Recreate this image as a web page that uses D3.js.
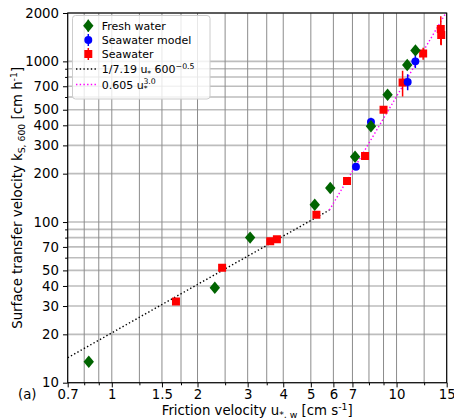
<!DOCTYPE html>
<html>
<head>
<meta charset="utf-8">
<script src="https://cdn.jsdelivr.net/npm/d3@7"></script>
<style>
body{margin:0;background:#fff;}
svg{display:block;font-family:"DejaVu Sans",sans-serif;}
</style>
</head>
<body>
<div id="chart"></div>
<script>
// values
var freshU = [0.83, 2.3, 3.06, 5.16, 5.85, 7.15, 8.13, 9.3, 10.9, 11.65];
var freshK = [13.5, 39, 80, 128, 163, 255, 395, 620, 950, 1170];
var freshErr = [0, 0, 0, 0, 0, 0, 0, 0, 0, 0];

var modelU = [7.2, 8.13, 10.94, 11.64];
var modelK = [221, 420, 745, 1000];
var modelErr = [10, 25, 85, 90];

var seaU = [1.68, 2.44, 3.6, 3.8, 5.23, 6.7, 7.75, 9.0, 10.5, 12.4, 14.3, 14.35];
var seaK = [32, 52, 76, 78, 111, 180, 258, 500, 740, 1120, 1590, 1460];
var seaErr = [0, 0, 0, 0, 0, 0, 15, 0, 135, 95, 320, 200];

// fit lines (straight in log-log, end points)
var fitLinU = [0.7, 5.81];
var fitLinK = [14.3, 118.8];
var fitCubU = [5.81, 15];
var fitCubK = [118.7, 2042];

var xGrid = [0.7, 0.8, 0.9, 1, 1.25, 1.5, 1.75, 2, 2.5, 3, 3.5, 4, 5, 6, 7, 8, 9, 10, 12.5, 15];
var xLabels = [0.7, 1, 1.5, 2, 3, 4, 5, 6, 7, 10, 15];
var yGrid = [10, 20, 30, 40, 50, 60, 70, 80, 90, 100, 200, 300, 400, 500, 600, 700, 800, 900, 1000, 2000];
var yLabels = [10, 20, 30, 40, 50, 70, 100, 200, 300, 400, 500, 700, 1000, 2000];

var width = 454, height = 418;
var pl = 67.7, pr = 446.7, pt = 13, pb = 382.7;

var svg = d3.select("#chart").append("svg")
  .attr("width", width).attr("height", height);

var x = d3.scaleLog().domain([0.7, 15]).range([pl, pr]);
var y = d3.scaleLog().domain([10, 2000]).range([pb, pt]);

svg.append("clipPath").attr("id", "clip")
  .append("rect").attr("x", pl).attr("y", pt)
  .attr("width", pr - pl).attr("height", pb - pt);

// grid
svg.append("g").selectAll("line").data(yGrid).enter().append("line")
  .attr("x1", pl).attr("x2", pr)
  .attr("y1", d => y(d)).attr("y2", d => y(d))
  .style("stroke", "#bdbdbd").style("stroke-width", 1.6);
svg.append("g").selectAll("line").data(xGrid).enter().append("line")
  .attr("x1", d => x(d)).attr("x2", d => x(d))
  .attr("y1", pt).attr("y2", pb)
  .style("stroke", "#8c8c8c").style("stroke-width", 1);

// axes
var xAxis = svg.append("g")
  .attr("transform", "translate(0," + pb + ")")
  .call(d3.axisBottom(x).tickValues(xGrid).tickSize(4.7).tickPadding(2)
    .tickFormat(d => xLabels.indexOf(d) >= 0 ? String(d) : ""));
xAxis.selectAll(".tick line").attr("y2", d => xLabels.indexOf(d) >= 0 ? 4.7 : 2.6);

var yAxis = svg.append("g")
  .attr("transform", "translate(" + pl + ",0)")
  .call(d3.axisLeft(y).tickValues(yGrid).tickSize(4.7).tickPadding(4)
    .tickFormat(d => yLabels.indexOf(d) >= 0 ? String(d) : ""));
yAxis.selectAll(".tick line").attr("x2", d => yLabels.indexOf(d) >= 0 ? -4.7 : -2.6);

svg.selectAll(".domain").remove();
svg.selectAll(".tick text")
  .style("font-family", "DejaVu Sans").style("font-size", "13.3px").style("fill", "#000");
svg.selectAll(".tick line").style("stroke", "#000").style("stroke-width", 1);

// fit lines
var line = d3.line().x(d => x(d[0])).y(d => y(d[1]));
var plot = svg.append("g").attr("clip-path", "url(#clip)");
plot.append("path")
  .datum(fitLinU.map((u, i) => [u, fitLinK[i]]))
  .attr("d", line)
  .style("fill", "none").style("stroke", "#000")
  .style("stroke-width", 1.4).style("stroke-dasharray", "1.4,2.3");
plot.append("path")
  .datum(fitCubU.map((u, i) => [u, fitCubK[i]]))
  .attr("d", line)
  .style("fill", "none").style("stroke", "#ff00ff")
  .style("stroke-width", 1.4).style("stroke-dasharray", "1.4,2.3");

// series
function drawSeries(us, ks, errs, color, shape) {
  var data = us.map((u, i) => ({u: u, k: ks[i], e: errs[i]}));
  var g = plot.append("g");
  g.selectAll("line").data(data.filter(d => d.e > 0)).enter().append("line")
    .attr("x1", d => x(d.u)).attr("x2", d => x(d.u))
    .attr("y1", d => y(d.k - d.e)).attr("y2", d => y(d.k + d.e))
    .style("stroke", color).style("stroke-width", 1.5);
  g.selectAll("path").data(data).enter().append("path")
    .attr("transform", d => "translate(" + x(d.u) + "," + y(d.k) + ")")
    .attr("d", shape)
    .style("fill", color);
}
var diamond = "M0,-6.2L5.2,0L0,6.2L-5.2,0Z";
var square = "M-4,-4H4V4H-4Z";
var circle = d3.symbol().type(d3.symbolCircle).size(50)();

drawSeries(seaU, seaK, seaErr, "#ff0000", square);
drawSeries(modelU, modelK, modelErr, "#0000ff", circle);
drawSeries(freshU, freshK, freshErr, "#006400", diamond);

// frame
svg.append("rect")
  .attr("x", pl).attr("y", pt)
  .attr("width", pr - pl).attr("height", pb - pt)
  .style("fill", "none").style("stroke", "#000").style("stroke-width", 1.1);

// legend
var leg = svg.append("g");
leg.append("rect")
  .attr("x", 72.5).attr("y", 15.5).attr("width", 137.5).attr("height", 83.5).attr("rx", 3)
  .style("fill", "#fff").style("fill-opacity", 0.8)
  .style("stroke", "#cccccc").style("stroke-width", 1);

var legItems = [
  {color: "#006400", shape: diamond, base: 29.7},
  {color: "#0000ff", shape: circle, base: 44},
  {color: "#ff0000", shape: square, base: 58}
];
legItems.forEach(function(it) {
  var cy = it.base - 4;
  leg.append("line")
    .attr("x1", 88.3).attr("x2", 88.3).attr("y1", cy - 6).attr("y2", cy + 6)
    .style("stroke", it.color).style("stroke-width", 1.5);
  leg.append("path")
    .attr("transform", "translate(88.3," + cy + ")")
    .attr("d", it.shape).style("fill", it.color);
});
[[73, "#000"], [88.5, "#ff00ff"]].forEach(function(p) {
  leg.append("line")
    .attr("x1", 76).attr("x2", 98).attr("y1", p[0] - 4).attr("y2", p[0] - 4)
    .style("stroke", p[1]).style("stroke-width", 1.4).style("stroke-dasharray", "1.4,2.3");
});

function legText(yy) {
  return leg.append("text").attr("x", 101.7).attr("y", yy)
    .style("font-size", "11px").style("fill", "#000");
}
legText(29.7).text("Fresh water");
legText(44).text("Seawater model");
legText(58).text("Seawater");
var t4 = legText(73);
t4.append("tspan").text("1/7.19 u");
t4.append("tspan").attr("dy", 2.5).style("font-size", "7.5px").text("*");
t4.append("tspan").attr("dy", -2.5).text(" 600");
t4.append("tspan").attr("dy", -4.5).style("font-size", "7.8px").text("\u22120.5");
var t5 = legText(88.5);
t5.append("tspan").text("0.605 u");
t5.append("tspan").attr("dy", 2.5).style("font-size", "7.5px").text("*");
t5.append("tspan").attr("dx", -4).attr("dy", -7).style("font-size", "7.8px").text("3.0");

// axis labels
var xl = svg.append("text")
  .attr("x", (pl + pr) / 2).attr("y", 414.5)
  .attr("text-anchor", "middle")
  .style("font-size", "13.3px").style("fill", "#000");
xl.append("tspan").text("Friction velocity u");
xl.append("tspan").attr("dy", 3).style("font-size", "9.3px").text("*, w");
xl.append("tspan").attr("dy", -3).text(" [cm s");
xl.append("tspan").attr("dy", -5).style("font-size", "9.3px").text("-1");
xl.append("tspan").attr("dy", 5).text("]");

var yl = svg.append("text")
  .attr("transform", "translate(22," + ((pt + pb) / 2) + ") rotate(-90)")
  .attr("text-anchor", "middle")
  .style("font-size", "13.3px").style("fill", "#000");
yl.append("tspan").text("Surface transfer velocity k");
yl.append("tspan").attr("dy", 3).style("font-size", "9.3px").text("S, 600");
yl.append("tspan").attr("dy", -3).text(" [cm h");
yl.append("tspan").attr("dy", -5).style("font-size", "9.3px").text("-1");
yl.append("tspan").attr("dy", 5).text("]");

svg.append("text").attr("x", 18).attr("y", 398.5)
  .style("font-size", "13.3px").style("fill", "#000").text("(a)");
</script>
</body>
</html>
